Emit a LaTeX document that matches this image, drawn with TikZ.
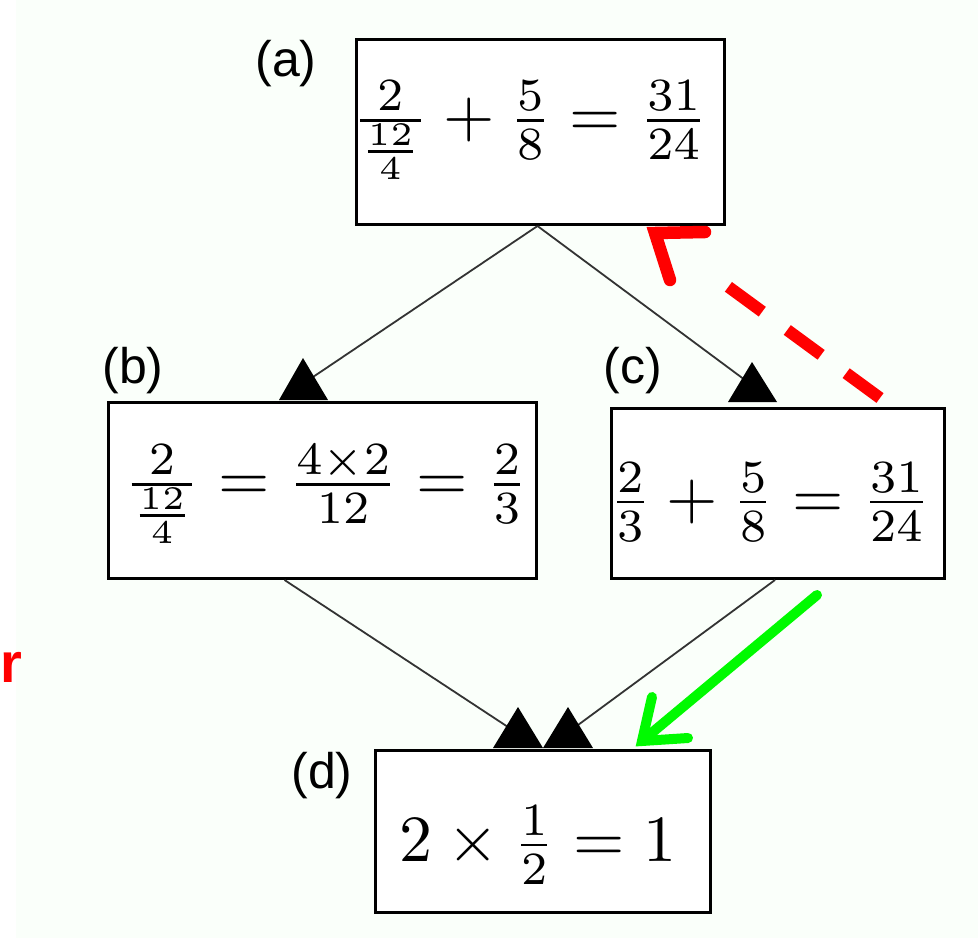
\documentclass[tikz,border=0pt]{standalone}
\usepackage{fontspec}
\usepackage{graphicx}
\usetikzlibrary{calc}
\newfontfamily\labelfont{Liberation Sans}
\definecolor{mint}{RGB}{250,255,250}
\definecolor{pured}{RGB}{255,0,0}
\definecolor{purgreen}{RGB}{0,250,0}
\begin{document}
\begin{tikzpicture}[x=1pt,y=-1pt,
  box/.style={draw=black, line width=3pt, fill=white, inner sep=0pt, rectangle},
  mathtext/.style={inner sep=0pt},
  tag/.style={inner sep=0pt, anchor=base, font=\labelfont\fontsize{50}{60}\selectfont},
  conn/.style={draw=black!80, line width=1.8pt},
  tri/.style={fill=black},
  reddash/.style={draw=pured, line width=12pt, dash pattern=on 42pt off 31pt, line cap=butt},
  redhead/.style={draw=pured, line width=12.5pt, line cap=round, line join=miter},
  greenline/.style={draw=purgreen, line width=10pt, line cap=round, line join=miter}
]
\useasboundingbox (0,0) rectangle (978,938);
\fill[white] (0,0) rectangle (978,938);
\fill[mint] (16,0) rectangle (978,938);

% boxes
\node[box, minimum width=368pt, minimum height=185pt] (a) at (540.5,132) {};
\node[box, minimum width=428pt, minimum height=176pt] (b) at (322.5,490.5) {};
\node[box, minimum width=333pt, minimum height=170pt] (c) at (778,493.5) {};
\node[box, minimum width=335pt, minimum height=162pt] (d) at (543,831.5) {};

% contents
\node[mathtext] (ta) at (530,130) {\scalebox{6.6}{$\frac{2}{\frac{12}{4}}+\frac{5}{8}=\frac{31}{24}$}};
\node[mathtext] (tb) at (326,494) {\scalebox{6.6}{$\frac{2}{\frac{12}{4}}=\frac{4\times2}{12}=\frac{2}{3}$}};
\node[mathtext] (tc) at (770,502) {\scalebox{6.6}{$\frac{2}{3}+\frac{5}{8}=\frac{31}{24}$}};
\node[mathtext] (td) at (538,845) {\scalebox{6.6}{$2\times\frac{1}{2}=1$}};

% labels
\node[tag] (la) at (286,76) {(a)};
\node[tag] (lb) at (133,383) {(b)};
\node[tag] (lc) at (633,383) {(c)};
\node[tag] (ld) at (322,788) {(d)};
\node[inner sep=0pt, anchor=base west, text=pured, font=\labelfont\bfseries\fontsize{56}{68}\selectfont] (rr) at (0,682) {r};

% arrow heads (apex points) and line ends
\coordinate (hb) at (303,358);
\coordinate (hc) at (752,362);
\coordinate (hd1) at (518,707);
\coordinate (hd2) at (568,707);
\coordinate (eb) at (313,377);
\coordinate (ec) at (745,380);
\coordinate (ed1) at (508,727);
\coordinate (ed2) at (578,725);

\draw[conn] ($(a.south)+(-3,0)$) -- (eb);
\draw[conn] ($(a.south)+(-3,0)$) -- (ec);
\draw[conn] ($(b.south)+(-38,0)$) -- (ed1);
\draw[conn] ($(c.south)+(-3,0)$) -- (ed2);

\fill[tri] (hb) -- ++(-24,42) -- ++(49,0) -- cycle;
\fill[tri] (hc) -- ++(-24,40) -- ++(49,0) -- cycle;
\fill[tri] (hd1) -- ++(-25,41) -- ++(50,0) -- cycle;
\fill[tri] (hd2) -- ++(-25,41) -- ++(50,0) -- cycle;

% red dashed arrow from c back to a
\coordinate (rs) at ($(c.north east)+(-66,-9)$);
\coordinate (rt) at ($(a.south east)+(-71,7)$);
\draw[reddash, shorten >=87pt] (rs) -- (rt);
\draw[redhead] ($(rt)+(50,-1)$) -- (rt) -- ($(rt)+(15,47)$);

% green arrow from c to d
\coordinate (gs) at ($(c.south)+(39,15)$);
\coordinate (gt) at ($(d.north east)+(-70,-8)$);
\draw[greenline] (gs) -- (gt);
\draw[greenline] ($(gt)+(10,-44)$) -- (gt) -- ($(gt)+(46,-3)$);
\end{tikzpicture}
\end{document}
